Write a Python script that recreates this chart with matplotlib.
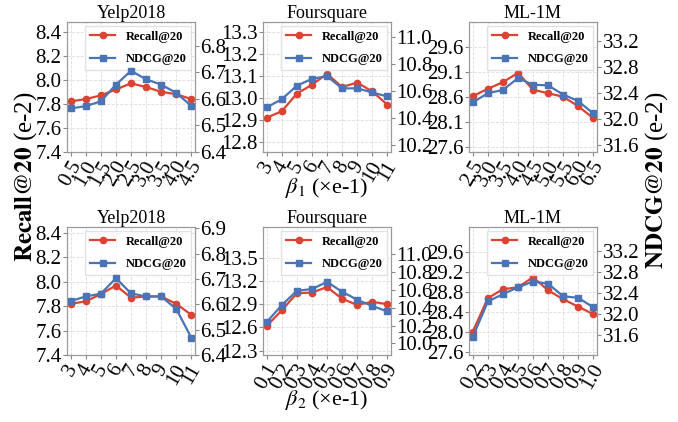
import numpy as np
import matplotlib
matplotlib.use("Agg")
import matplotlib.pyplot as plt

plt.rcParams['font.family'] = ['Liberation Serif', 'DejaVu Serif']
plt.rcParams['mathtext.fontset'] = 'stix'

RED = '#dc4332'
BLUE = '#4a74b6'

# ---- data ----
titles = ['Yelp2018', 'Foursquare', 'ML-1M']

# row 1 : beta_1
x_top = [['0.5', '1.0', '1.5', '2.0', '2.5', '3.0', '3.5', '4.0', '4.5'],
         ['3', '4', '5', '6', '7', '8', '9', '10', '11'],
         ['2.5', '3.0', '3.5', '4.0', '4.5', '5.0', '5.5', '6.0', '6.5']]
recall_top = [[7.82, 7.84, 7.87, 7.92, 7.97, 7.94, 7.90, 7.88, 7.84],
              [12.91, 12.94, 13.02, 13.06, 13.11, 13.05, 13.07, 13.03, 12.97],
              [28.61, 28.76, 28.89, 29.08, 28.74, 28.67, 28.60, 28.41, 28.17]]
ndcg_top = [[6.564, 6.573, 6.591, 6.654, 6.706, 6.674, 6.654, 6.623, 6.574],
            [10.48, 10.54, 10.64, 10.69, 10.71, 10.62, 10.62, 10.59, 10.56],
            [32.26, 32.40, 32.45, 32.63, 32.53, 32.52, 32.38, 32.28, 32.09]]

# row 2 : beta_2
x_bot = [['3', '4', '5', '6', '7', '8', '9', '10', '11'],
         ['0.1', '0.2', '0.3', '0.4', '0.5', '0.6', '0.7', '0.8', '0.9'],
         ['0.2', '0.3', '0.4', '0.5', '0.6', '0.7', '0.8', '0.9', '1.0']]
recall_bot = [[7.82, 7.84, 7.90, 7.97, 7.87, 7.88, 7.88, 7.82, 7.73],
              [12.62, 12.82, 13.04, 13.05, 13.12, 12.97, 12.89, 12.93, 12.90],
              [28.00, 28.67, 28.85, 28.89, 29.09, 28.83, 28.65, 28.50, 28.35]]
ndcg_bot = [[6.613, 6.631, 6.642, 6.703, 6.643, 6.631, 6.631, 6.582, 6.469],
            [10.24, 10.43, 10.59, 10.61, 10.69, 10.58, 10.49, 10.42, 10.36],
            [31.56, 32.24, 32.38, 32.51, 32.62, 32.58, 32.34, 32.31, 32.13]]

# axis limits / ticks (left, right) per panel
ylims_left = [[(7.4, 8.48), (12.754, 13.346), (27.49, 30.1)],
              [(7.4, 8.45), (12.244, 13.895), (27.53, 30.1)]]
yticks_left = [[np.arange(7.4, 8.41, 0.2), np.arange(12.8, 13.31, 0.1), np.arange(27.6, 29.61, 0.5)],
               [np.arange(7.4, 8.41, 0.2), np.arange(12.3, 13.51, 0.3), np.arange(27.6, 29.61, 0.4)]]
ylims_right = [[(6.4, 6.89), (10.15, 11.11), (31.5, 33.49)],
               [(6.4, 6.905), (9.87, 11.306), (31.22, 33.66)]]
yticks_right = [[np.arange(6.4, 6.81, 0.1), np.arange(10.2, 11.01, 0.2), np.arange(31.6, 33.21, 0.4)],
                [np.arange(6.4, 6.91, 0.1), np.arange(10.0, 11.01, 0.2), np.arange(31.6, 33.21, 0.4)]]

W, H = 678, 422
fig = plt.figure(figsize=(W / 100, H / 100), dpi=100)

lefts = [67, 263, 469]
rows = [(22, 152), (227, 355)]

for r in range(2):
    xs = x_top if r == 0 else x_bot
    recs = recall_top if r == 0 else recall_bot
    ndcgs = ndcg_top if r == 0 else ndcg_bot
    top, bot = rows[r]
    for c in range(3):
        ax = fig.add_axes([lefts[c] / W, 1 - bot / H, 128 / W, (bot - top) / H])
        ax2 = ax.twinx()
        pos = np.arange(len(xs[c]))
        l1, = ax.plot(pos, recs[c], color=RED, marker='o', ms=4.5, lw=1.6, label='Recall@20')
        l2, = ax2.plot(pos, ndcgs[c], color=BLUE, marker='s', ms=4.5, lw=1.6, label='NDCG@20')
        ax.set_xlim(-0.25, len(pos) - 0.75)
        ax.set_xticks(pos)
        ax.set_xticklabels(xs[c], rotation=60, fontsize=15)
        ax.set_ylim(*ylims_left[r][c])
        ax.set_yticks(yticks_left[r][c])
        ax.set_yticklabels(['%.1f' % v for v in yticks_left[r][c]], fontsize=15)
        ax2.set_ylim(*ylims_right[r][c])
        ax2.set_yticks(yticks_right[r][c])
        ax2.set_yticklabels(['%.1f' % v for v in yticks_right[r][c]], fontsize=15)
        ax.tick_params(length=3, pad=1, color='#888888')
        ax2.tick_params(length=3, pad=1, color='#888888')
        ax.grid(True, ls='--', lw=0.6, color='#dddddd')
        ax.set_axisbelow(True)
        for a in (ax, ax2):
            for s in a.spines.values():
                s.set_color('#999999')
        ax.set_title(titles[c], fontsize=13, pad=3)
        ax.legend([l1, l2], ['Recall@20', 'NDCG@20'], loc='upper right',
                  prop={'weight': 'bold', 'size': 9}, fancybox=False,
                  edgecolor='#dddddd', borderaxespad=0.3, labelspacing=0.85)

fig.text(26 / W, 1 - 177 / H, r'$\mathbf{Recall@20}$ (e-2)', rotation=90, ha='center', va='center', fontsize=18)
fig.text(657 / W, 1 - 180 / H, r'$\mathbf{NDCG@20}$ (e-2)', rotation=90, ha='center', va='center', fontsize=18)
fig.text(327 / W, 1 - 188 / H, r'$\beta_1$ (×e-1)', ha='center', va='center', fontsize=16)
fig.text(327 / W, 1 - 400 / H, r'$\beta_2$ (×e-1)', ha='center', va='center', fontsize=16)

fig.savefig('out.png', dpi=100)
